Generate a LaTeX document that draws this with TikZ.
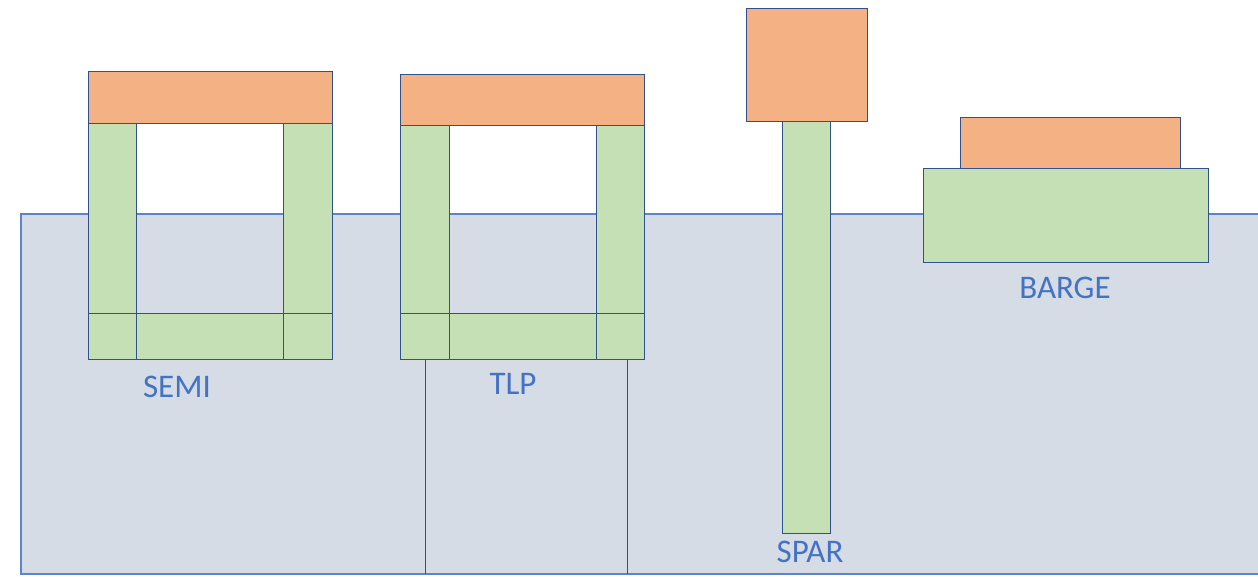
\documentclass[tikz,border=0pt]{standalone}
\usepackage{fontspec}
\setmainfont{Carlito}
\definecolor{deck}{HTML}{F4B183}
\definecolor{hull}{HTML}{C5E0B4}
\definecolor{sea}{HTML}{D6DCE5}
\definecolor{edge}{HTML}{2F528F}
\definecolor{seaedge}{HTML}{5B84CC}
\definecolor{lbl}{HTML}{4472C4}
\tikzset{
  part/.style={draw=edge, line width=1pt, inner sep=0pt, outer sep=0pt, anchor=north west},
  deckbox/.style={part, fill=deck},
  hullbox/.style={part, fill=hull},
  label/.style={text=lbl, font=\fontsize{33}{36}\selectfont, inner sep=0pt}
}
\newcommand{\pbox}[6]{% style, name, x1, y1, x2, y2
  \node[#1, minimum width={(#5-#3)*1pt}, minimum height={(#6-#4)*1pt}] (#2) at (#3,#4) {};}
\begin{document}
\begin{tikzpicture}[x=1pt,y=-1pt]
\useasboundingbox (0,0) rectangle (1258,576);
\clip (0,0) rectangle (1258,576);
% sea
\node[part, fill=sea, draw=seaedge, line width=1.4pt, minimum width=1250pt, minimum height=360pt] (sea) at (21,214) {};
% TLP tendons
\coordinate (t1) at (425,574);
\coordinate (t2) at (627,574);
% SEMI
\pbox{deckbox}{semideck}{88}{71}{332}{123}
\pbox{hullbox}{semicolL}{88}{123}{136}{313}
\pbox{hullbox}{semicolR}{283}{123}{332}{313}
\pbox{hullbox}{semiponL}{88}{313}{136}{359}
\pbox{hullbox}{semiponM}{136}{313}{283}{359}
\pbox{hullbox}{semiponR}{283}{313}{332}{359}
\node[label] (semi) at (177,387) {SEMI};
% TLP
\pbox{deckbox}{tlpdeck}{400}{74}{644}{125}
\pbox{hullbox}{tlpcolL}{400}{125}{449}{313}
\pbox{hullbox}{tlpcolR}{596}{125}{644}{313}
\pbox{hullbox}{tlpponL}{400}{313}{449}{359}
\pbox{hullbox}{tlpponM}{449}{313}{596}{359}
\pbox{hullbox}{tlpponR}{596}{313}{644}{359}
\draw[draw=edge, line width=1pt] (t1 |- tlpponL.south) -- (t1);
\draw[draw=edge, line width=1pt] (t2 |- tlpponR.south) -- (t2);
\node[label] (tlp) at (513,384) {TLP};
% SPAR
\pbox{deckbox}{spardeck}{746}{8}{867}{121}
\pbox{hullbox}{sparhull}{782}{121}{830}{533}
\node[label] (spar) at (810,552) {SPAR};
% BARGE
\pbox{deckbox}{bargedeck}{960}{117}{1180}{168}
\pbox{hullbox}{bargehull}{923}{168}{1208}{262}
\node[label] (barge) at (1065,288) {BARGE};
\end{tikzpicture}
\end{document}
